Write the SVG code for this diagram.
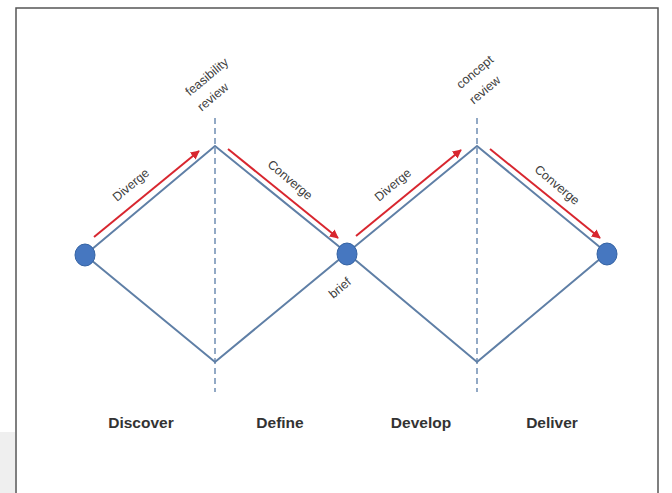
<svg xmlns="http://www.w3.org/2000/svg" width="672" height="493" viewBox="0 0 672 493">
<defs>
<style>
.edge{stroke:#5f7fa6;stroke-width:2;fill:none;stroke-linecap:round}
.dash{stroke:#6f8db2;stroke-width:1.5;stroke-dasharray:6,4;fill:none}
.red{stroke:#d8262f;stroke-width:2;fill:none;marker-end:url(#ah)}
.node{fill:#4677c0;stroke:#3563a3;stroke-width:1}
.lbl{font-family:"Liberation Sans",Arial,sans-serif;font-size:12.5px;fill:#404040;text-anchor:middle}
.phase{font-family:"Liberation Sans",Arial,sans-serif;font-size:15.5px;font-weight:bold;fill:#333;text-anchor:middle}
</style>
<marker id="ah" viewBox="0 0 10 10" refX="9" refY="5" markerWidth="4.5" markerHeight="4.5" orient="auto" markerUnits="strokeWidth">
<path d="M0,0 L10,5 L0,10 z" fill="#d8262f"/>
</marker>
</defs>
<rect x="0" y="0" width="672" height="493" fill="#ffffff"/>
<rect x="0" y="432" width="15" height="61" fill="#efefef"/>
<path d="M16,493 V8 H658 V493" fill="none" stroke="#555" stroke-width="1.5"/>
<g id="connectors">
<path class="dash" d="M215,118 V392"/>
<path class="dash" d="M477,118 V392"/>
<path class="edge" d="M85,255 L215,146 L347,253 L477,146 L607,253"/>
<path class="edge" d="M85,255 L215,362 L347,253 L477,362 L607,253"/>
<path class="red" d="M94,237 L199,151"/>
<path class="red" d="M228,149 L338,238"/>
<path class="red" d="M356,236 L461,150"/>
<path class="red" d="M490,149 L600,238"/>
</g>
<g id="node-start"><ellipse class="node" cx="85" cy="255" rx="10" ry="11"/></g>
<g id="node-brief"><ellipse class="node" cx="347" cy="254" rx="10" ry="11"/><text class="lbl" x="340" y="292" transform="rotate(-40 340 288)">brief</text></g>
<g id="node-end"><ellipse class="node" cx="607" cy="254" rx="10" ry="11"/></g>
<g id="labels">
<text class="lbl" x="131" y="189" transform="rotate(-40 131 185)">Diverge</text>
<text class="lbl" x="290" y="184" transform="rotate(40 290 180)">Converge</text>
<text class="lbl" x="393" y="189" transform="rotate(-40 393 185)">Diverge</text>
<text class="lbl" x="557" y="189" transform="rotate(40 557 185)">Converge</text>
<text class="lbl" x="207" y="81" transform="rotate(-40 207 77)">feasibility</text>
<text class="lbl" x="213" y="101" transform="rotate(-40 213 97)">review</text>
<text class="lbl" x="475" y="76" transform="rotate(-40 475 72)">concept</text>
<text class="lbl" x="485" y="94" transform="rotate(-40 485 90)">review</text>
</g>
<g id="phases">
<text class="phase" x="141" y="428">Discover</text>
<text class="phase" x="280" y="428">Define</text>
<text class="phase" x="421" y="428">Develop</text>
<text class="phase" x="552" y="428">Deliver</text>
</g>
</svg>
